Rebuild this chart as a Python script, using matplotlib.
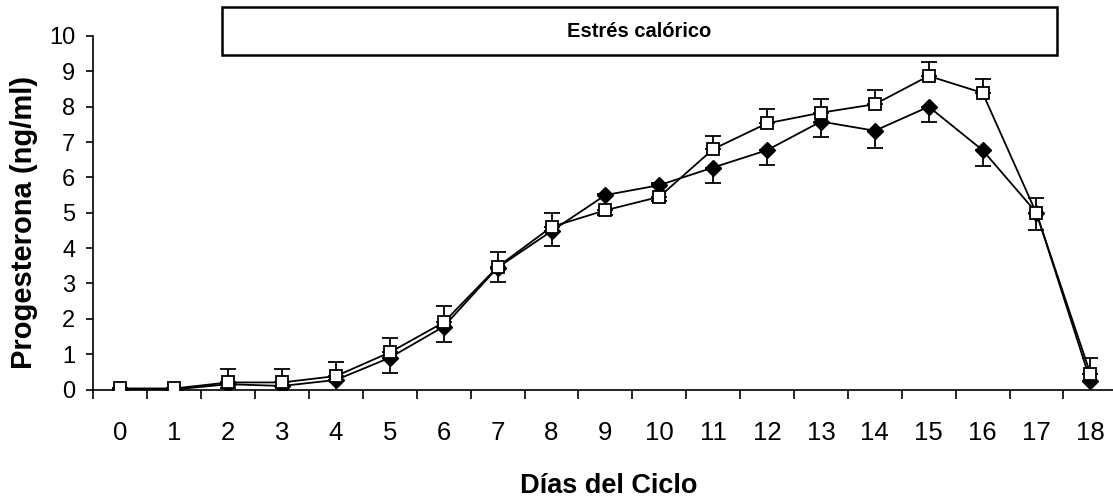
import matplotlib
matplotlib.use("Agg")
from matplotlib import pyplot as plt
from matplotlib.patches import Rectangle
import numpy as np

plt.rcParams['font.family'] = ['Liberation Sans', 'DejaVu Sans']

# Datos
dias = list(range(19))
diamante = [0.0, 0.0, 0.15, 0.1, 0.27, 0.9, 1.78, 3.45, 4.48, 5.5, 5.78,
            6.28, 6.77, 7.58, 7.32, 8.0, 6.77, 5.0, 0.25]
diamante_err = [0.0, 0.0, 0.1, 0.4, 0.42, 0.42, 0.44, 0.4, 0.43, 0.55, 0.45,
                0.45, 0.42, 0.43, 0.5, 0.44, 0.44, 0.5, 0.45]
cuadrado = [0.03, 0.03, 0.2, 0.2, 0.38, 1.05, 1.9, 3.47, 4.6, 5.07, 5.45,
            6.8, 7.53, 7.83, 8.07, 8.87, 8.39, 4.98, 0.45]
cuadrado_err = [0.0, 0.0, 0.38, 0.37, 0.39, 0.4, 0.45, 0.43, 0.4, 0.45, 0.4,
                0.38, 0.4, 0.4, 0.4, 0.4, 0.38, 0.44, 0.44]
y_ticks = list(range(11))

fig = plt.figure(figsize=(11.13, 5.01), dpi=100)
ax = fig.add_axes([93.5 / 1113, 1 - 389.5 / 501, (1113 - 93.5) / 1113, (389.5 - 36) / 501])

zero = np.zeros(len(dias))
# barras de error: diamantes hacia abajo, cuadrados hacia arriba
ax.errorbar(dias, diamante, yerr=[diamante_err, zero], fmt='none', ecolor='black',
            elinewidth=1.3, capsize=6, capthick=1.3, zorder=2)
ax.errorbar(dias, cuadrado, yerr=[zero, cuadrado_err], fmt='none', ecolor='black',
            elinewidth=1.3, capsize=6, capthick=1.3, zorder=2)

ax.plot(dias, diamante, color='black', lw=1.3, marker='D', markersize=8,
        markerfacecolor='black', markeredgecolor='black', zorder=3)
ax.plot(dias, cuadrado, color='black', lw=1.3, marker='s', markersize=8.5,
        markerfacecolor='white', markeredgecolor='black', markeredgewidth=1.3, zorder=4)

ax.set_xlim(-0.5, 18.42)
ax.set_ylim(0, 10)
ax.set_yticks(y_ticks)
ax.set_xticks(dias)
ax.set_xticks(np.arange(-0.5, 18, 1.0), minor=True)
ax.tick_params(axis='x', which='major', length=0, pad=23, labelsize=18.5)
ax.tick_params(axis='x', which='minor', length=6.5, width=1.2, direction='out')
ax.tick_params(axis='y', length=5, width=1.2, direction='out', pad=8, labelsize=17)

for s in ['top', 'right']:
    ax.spines[s].set_visible(False)
for s in ['left', 'bottom']:
    ax.spines[s].set_linewidth(1.2)
    ax.spines[s].set_clip_on(False)

fig.text(24 / 1113, 1 - 222 / 501, 'Progesterona (ng/ml)', rotation=90,
         fontsize=21, fontweight='bold', ha='center', va='center')
fig.text(609 / 1113, 1 - 486 / 501, 'Días del Ciclo',
         fontsize=19.5, fontweight='bold', ha='center', va='center')

# recuadro de estres calorico
x0, x1 = 222 / 1113, 1057 / 1113
y0, y1 = 1 - 55 / 501, 1 - 7 / 501
fig.add_artist(Rectangle((x0, y0), x1 - x0, y1 - y0, transform=fig.transFigure,
                         facecolor='white', edgecolor='black', lw=1.8))
fig.text((x0 + x1) / 2, (y0 + y1) / 2, 'Estrés calórico', fontsize=14.5,
         fontweight='bold', ha='center', va='center')

plt.savefig('out.png', dpi=100)
plt.close(fig)
